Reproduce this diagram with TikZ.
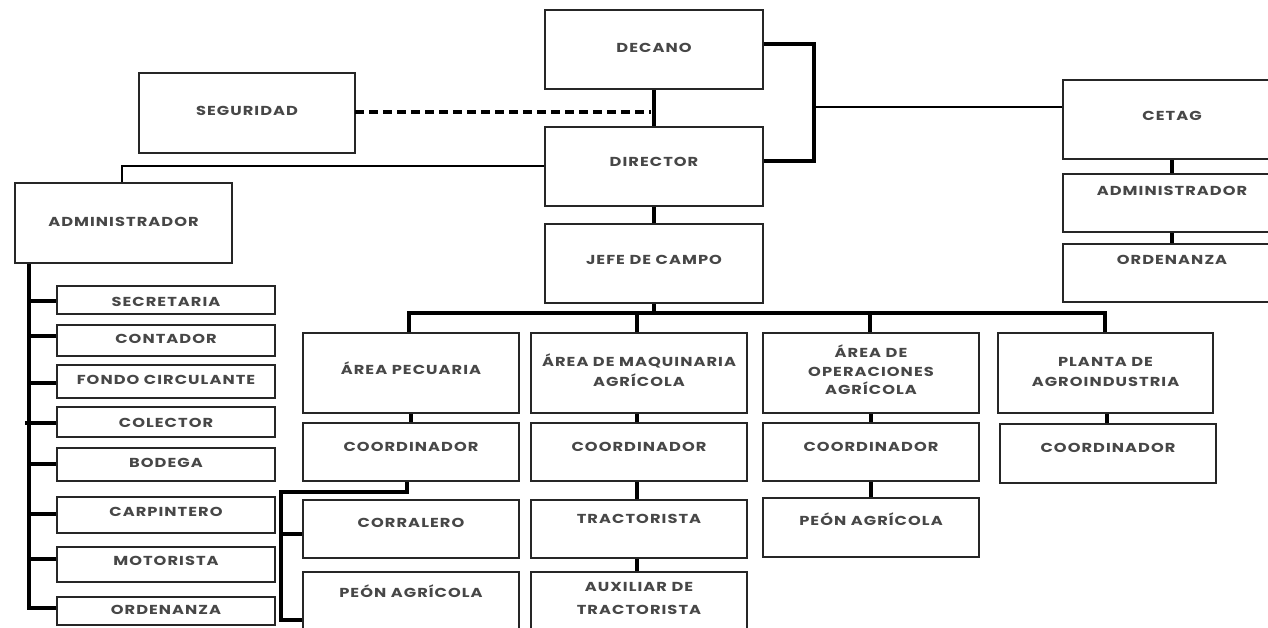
\documentclass[tikz,border=0pt]{standalone}
\usepackage{fontspec}
\setmainfont{Poppins}[FakeStretch=1.25,LetterSpace=8]
\tikzset{
  box/.style={draw=black!85, line width=2.2pt, inner sep=0pt, outer sep=0pt, fill=white},
  lbl/.style={inner sep=0pt, align=center, text=black!72, font=\fontsize{13}{20}\selectfont\bfseries},
  con/.style={draw=black, line width=3.4pt},
  thin/.style={draw=black, line width=2.7pt},
  dsh/.style={draw=black, line width=3.2pt, dash pattern=on 9pt off 5pt},
}
\newcommand\bx[7]{%
  \node[box, anchor=north west, minimum width={(#4-#2)*1pt}, minimum height={(#5-#3)*1pt}] (#1) at (#2,#3) {};
  \node[lbl, anchor=base] (#1t) at ({(#2+#4)/2},#6) {#7};}
\begin{document}
\begin{tikzpicture}[x=1pt,y=-1pt]
\clip (0,0) rectangle (1268,628);
\fill[white] (0,0) rectangle (1268,628);
% coordinates for connectors
\coordinate (dj) at (651,112);
\coordinate (c1) at (814,44);
\coordinate (c2) at (814,161);
\coordinate (c3) at (814,107);
\coordinate (lvtop) at (29,263);
\coordinate (bus) at (654,313);
\coordinate (pbx) at (281,492);
% connectors (behind boxes)
\draw[con] (545,44) coordinate (d1) -- (c1) -- (c2) -- (745,161) coordinate (d2);
\draw[thin] (c3) -- (1070,107) coordinate (ce1);
\draw[con] (654,60) coordinate (dd) -- (654,230) coordinate (jj);
\draw[thin] (600,166) coordinate (dl) -| (122,200) coordinate (al);
\draw[con] (lvtop) -- (29,608) coordinate (lvb) -- (70,608) coordinate (ol);
\draw[con] (654,280) coordinate (jb) -- (bus);
\draw[con] (409,340) coordinate (apn) |- (bus) -| (1105,340) coordinate (pan);
\draw[con] (637,313) -- (637,340) coordinate (amn);
\draw[con] (870,313) -- (870,340) coordinate (aon);
\draw[con] (411,400) coordinate (ap1) -- (411,440) coordinate (ap2);
\draw[con] (637,400) coordinate (am1) -- (637,590) coordinate (am2);
\draw[con] (871,400) coordinate (ao1) -- (871,510) coordinate (ao2);
\draw[con] (1107,400) coordinate (pa1) -- (1107,440) coordinate (pa2);
\draw[con] (1172,140) coordinate (ce2) -- (1172,260) coordinate (ce3);
\draw[con] (407,470) coordinate (pc1) |- (pbx) |- (320,620) coordinate (pc2);
\draw[con] (pbx |- 0,534) -- (320,534) coordinate (pc3);
\foreach \yy in {301,336,383,464,514,559}{\draw[con] (29,\yy) -- (70,\yy);}
\draw[con] (25,423) -- (70,423);
% boxes
\bx{dec}{545}{10}{763}{89}{53}{DECANO}
\bx{seg}{139}{73}{355}{153}{116}{SEGURIDAD}
\bx{dir}{545}{127}{763}{206}{167}{DIRECTOR}
\bx{jefe}{545}{224}{763}{303}{265}{JEFE DE CAMPO}
\bx{cetag}{1063}{80}{1281}{159}{121}{CETAG}
\bx{cadm}{1063}{174}{1281}{232}{196}{ADMINISTRADOR}
\bx{cord}{1063}{244}{1281}{302}{265}{ORDENANZA}
\bx{adm}{15}{183}{232}{263}{227}{ADMINISTRADOR}
\bx{sec}{57}{286}{275}{314}{306}{SECRETARIA}
\bx{cont}{57}{325}{275}{356}{343}{CONTADOR}
\bx{fondo}{57}{365}{275}{398}{384}{FONDO CIRCULANTE}
\bx{colec}{57}{407}{275}{437}{427}{COLECTOR}
\bx{bod}{57}{448}{275}{481}{467}{BODEGA}
\bx{carp}{57}{497}{275}{533}{516}{CARPINTERO}
\bx{mot}{57}{547}{275}{582}{565}{MOTORISTA}
\bx{ordl}{57}{597}{275}{625}{614}{ORDENANZA}
\bx{ap}{303}{333}{519}{413}{374}{ÁREA PECUARIA}
\bx{am}{531}{333}{747}{413}{386}{ÁREA DE MAQUINARIA\\AGRÍCOLA}
\bx{ao}{763}{333}{979}{413}{394}{ÁREA DE\\[-1pt]OPERACIONES\\[-2pt]AGRÍCOLA}
\bx{pa}{998}{333}{1213}{413}{386}{PLANTA DE\\AGROINDUSTRIA}
\bx{apc}{303}{423}{519}{481}{451}{COORDINADOR}
\bx{amc}{531}{423}{747}{481}{451}{COORDINADOR}
\bx{aoc}{763}{423}{979}{481}{451}{COORDINADOR}
\bx{pac}{1000}{424}{1216}{483}{452}{COORDINADOR}
\bx{corr}{303}{500}{519}{558}{527}{CORRALERO}
\bx{tract}{531}{500}{747}{558}{523}{TRACTORISTA}
\bx{aop}{763}{498}{979}{557}{525}{PEÓN AGRÍCOLA}
\bx{app}{303}{572}{519}{668}{597}{PEÓN AGRÍCOLA}
\bx{aux}{531}{572}{747}{650}{614}{AUXILIAR DE\\[3pt]TRACTORISTA}
\draw[dsh] (seg.east |- dj) -- (dj);
\end{tikzpicture}
\end{document}
